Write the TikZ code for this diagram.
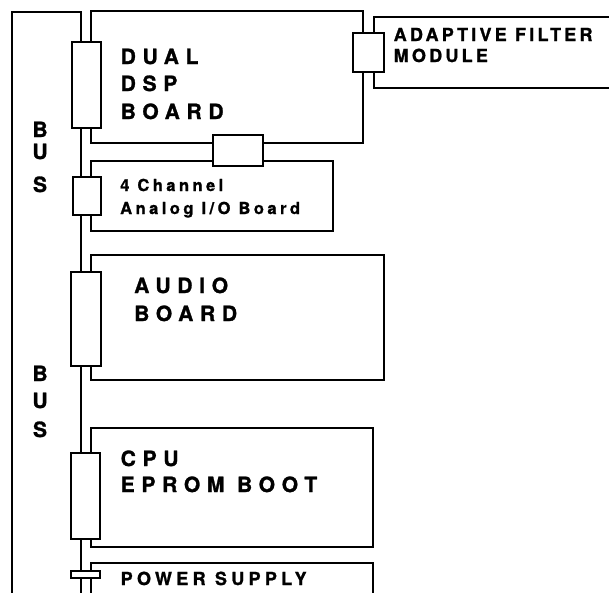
\documentclass[tikz,border=0pt]{standalone}
\usepackage{fontspec}
\setmainfont{TeX Gyre Heros}
\newfontfamily\fbig{texgyreheros-bold.otf}[LetterSpace=32,FakeBold=1.3]
\newfontfamily\fafm{texgyreheros-bold.otf}[LetterSpace=18,FakeBold=1.2]
\newfontfamily\fana{texgyreheros-bold.otf}[LetterSpace=21,FakeBold=1.1]
\newfontfamily\fpsu{texgyreheros-bold.otf}[LetterSpace=24,FakeBold=1.2]
\newfontfamily\fbus{texgyreheros-bold.otf}[FakeBold=1.3]
\begin{document}
\begin{tikzpicture}[x=1pt,y=-1pt,
  wire/.style={line width=1.7pt,line cap=round,line join=miter},
  board/.style={draw,line width=1.7pt,rectangle,anchor=north west,inner sep=0pt,outer sep=0pt},
  openboard/.style={draw=none,rectangle,anchor=north west,inner sep=0pt,outer sep=0pt},
  slot/.style={draw,fill=white,line width=1.7pt,rectangle,anchor=north west,inner sep=0pt,outer sep=0pt},
  lblbig/.style={anchor=base west,inner sep=0pt,font=\fontsize{21}{21}\fbig},
  lblafm/.style={anchor=base west,inner sep=0pt,font=\fontsize{18}{18}\fafm},
  lblana/.style={anchor=base west,inner sep=0pt,font=\fontsize{16.5}{16.5}\fana},
  lblpsu/.style={anchor=base west,inner sep=0pt,font=\fontsize{18}{18}\fpsu},
  lblbus/.style={anchor=base,inner sep=0pt,font=\fontsize{21}{21}\fbus}]
\useasboundingbox (0,0) rectangle (609,592);
% frame and bus
\coordinate (frbot) at (12,600);
\coordinate (frtop) at (12,12);
\coordinate (bustop) at (81,12);
\coordinate (busbot) at (81,600);
\draw[wire] (frbot) -- (frtop) -- (bustop) -- (busbot);
% boards
\node[board,minimum width=272pt,minimum height=132pt] (dsp) at (91,11) {};
\node[openboard,minimum width=245pt,minimum height=71pt] (afm) at (374,17) {};
\draw[wire] (afm.north east) -- (afm.north west) -- (afm.south west) -- (afm.south east);
\node[board,minimum width=242pt,minimum height=70pt] (ana) at (91,161) {};
\node[board,minimum width=293pt,minimum height=125pt] (aud) at (91,255) {};
\node[board,minimum width=282pt,minimum height=119pt] (cpu) at (91,428) {};
\node[openboard,minimum width=282pt,minimum height=45pt] (psu) at (91,563) {};
\draw[wire] (psu.south west) -- (psu.north west) -- (psu.north east) -- (psu.south east);
% connectors
\node[slot,minimum width=29pt,minimum height=86pt] (c1) at (72,42) {};
\node[slot,minimum width=50pt,minimum height=31pt] (c2) at (213,135) {};
\node[slot,minimum width=28pt,minimum height=38pt] (c3) at (73,177) {};
\node[slot,minimum width=30pt,minimum height=94pt] (c4) at (71,272) {};
\node[slot,minimum width=29pt,minimum height=86pt] (c5) at (71,453) {};
\node[slot,minimum width=29pt,minimum height=7pt] (c6) at (71,571) {};
\node[slot,minimum width=31pt,minimum height=39pt] (c7) at (353,33) {};
% labels
\node[lblbig] (t1) at (120.5,64) {DUAL};
\node[lblbig] (t2) at (120.5,91) {DSP};
\node[lblbig] (t3) at (120.5,119) {BOARD};
\node[lblafm] (t4) at (393.5,41) {ADAPTIVE FILTER};
\node[lblafm] (t5) at (393.5,62) {MODULE};
\node[lblana] (t6) at (120,191) {4 Channel};
\node[lblana] (t7) at (120,214) {Analog I/O Board};
\node[lblbig] (t8) at (134,293) {AUDIO};
\node[lblbig] (t9) at (134,321) {BOARD};
\node[lblbig] (t10) at (120.5,466) {CPU};
\node[lblbig] (t11) at (120.5,492) {EPROM BOOT};
\node[lblpsu] (t12) at (120.5,585) {POWER SUPPLY};
\node[lblbus] (b1) at (40,137) {B};
\node[lblbus] (b2) at (40,159) {U};
\node[lblbus] (b3) at (40,192) {S};
\node[lblbus] (b4) at (40,381) {B};
\node[lblbus] (b5) at (40,408) {U};
\node[lblbus] (b6) at (40,437) {S};
\end{tikzpicture}
\end{document}
